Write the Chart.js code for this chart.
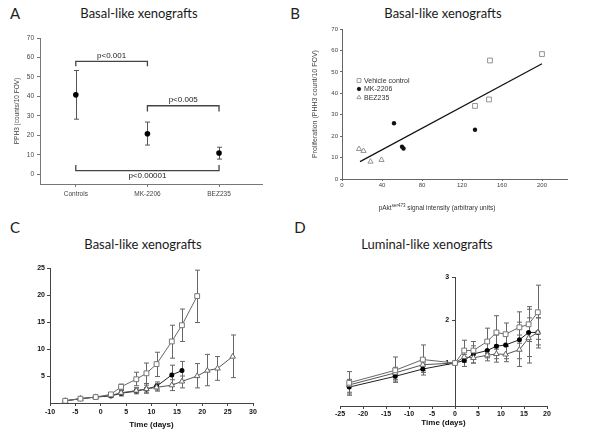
<!DOCTYPE html>
<html lang="en">
<head>
<meta charset="UTF-8">
<title>Xenograft panels</title>
<script src="https://cdn.jsdelivr.net/npm/chart.js"></script>
<style>
  body { margin: 0; width: 600px; height: 446px; background: #fff; position: relative; overflow: hidden;
         font-family: "Liberation Sans", Arial, sans-serif; }
  .panel { position: absolute; }
  .letter { position: absolute; font-family: Lato, sans-serif; font-size: 15px; color: #222;
            transform: translate(-50%, -50%); }
  .title { position: absolute; font-family: Lato, sans-serif; font-size: 13px; color: #1a1a1a;
           transform: translate(-50%, -50%); white-space: nowrap; }
  .xlabel { position: absolute; font-size: 6.5px; color: #333; transform: translate(-50%, -50%); white-space: nowrap; }
  .xlabel sup { font-size: 4.5px; }
</style>
</head>
<body>

<div class="letter" style="left:15px;top:13px">A</div>
<div class="letter" style="left:295px;top:13px">B</div>
<div class="letter" style="left:15px;top:227px">C</div>
<div class="letter" style="left:300px;top:227px">D</div>

<div class="title" style="left:139px;top:13px">Basal-like xenografts</div>
<div class="title" style="left:443px;top:13px">Basal-like xenografts</div>
<div class="title" style="left:143px;top:244px">Basal-like xenografts</div>
<div class="title" style="left:427px;top:244px">Luminal-like xenografts</div>

<canvas id="chartA" class="panel" width="300" height="220" style="left:0;top:0"></canvas>
<canvas id="chartB" class="panel" width="300" height="220" style="left:300px;top:0"></canvas>
<canvas id="chartC" class="panel" width="300" height="226" style="left:0;top:220px"></canvas>
<canvas id="chartD" class="panel" width="300" height="226" style="left:300px;top:220px"></canvas>

<div class="xlabel" style="left:437px;top:207px">pAkt<sup>ser473</sup> signal intensity (arbitrary units)</div>

<script>
// panel A - PPH3 per group
const aGroups = ['Controls', 'MK-2206', 'BEZ235'];
const aMean = [40.8, 20.8, 10.9];
const aLow = [28.3, 15.0, 7.8];
const aHigh = [53.3, 26.8, 13.9];
const aYTicks = [0, 10, 20, 30, 40, 50, 60, 70];
// significance brackets
const aBrFrom = [0, 1, 0];
const aBrTo = [1, 2, 2];
const aBrY = [58.0, 35.2, 1.9];
const aBrTip = [55.5, 32.3, 4.8];
const aBrText = ['p<0.001', 'p<0.005', 'p<0.00001'];

// panel B - proliferation vs pAkt
const bVehX = [133, 147, 148, 200];
const bVehY = [34.1, 37.1, 55.3, 58.3];
const bMkX = [52, 60, 61.5, 133];
const bMkY = [26.0, 15.1, 14.2, 23.0];
const bBezX = [17, 21.5, 28.5, 39.5];
const bBezY = [14.0, 13.1, 8.1, 8.9];
const bFitX = [18, 200];
const bFitY = [8.1, 53.8];
const bXTicks = [0, 40, 80, 120, 160, 200];
const bYTicks = [0, 10, 20, 30, 40, 50, 60, 70];

// panel C - basal-like tumour growth
const cDays = [-7, -4, -1, 2, 4, 7, 9, 11, 14, 16, 19, 21, 23, 26];
const cVeh = [0.4, 0.8, 1.1, 1.6, 3.0, 4.4, 5.5, 7.2, 11.4, 14.4, 19.8];
const cVehLow = [null, null, null, 1.4, 2.5, 3.2, 3.6, 4.9, 8.3, 11.4, 14.9];
const cVehHigh = [null, null, null, 1.8, 3.5, 5.7, 7.4, 9.4, 14.4, 17.4, 24.6];
const cMk = [0.4, 0.8, 1.1, 1.3, 1.8, 2.2, 2.6, 3.1, 5.2, 6.0];
const cMkLow = [null, null, null, 1.1, 1.3, 1.7, 1.8, 2.4, 3.5, 4.2];
const cMkHigh = [null, null, null, 1.5, 2.3, 2.8, 3.6, 3.9, 7.0, 7.7];
const cBez = [0.4, 0.8, 1.1, 1.4, 1.9, 2.3, 2.6, 2.9, 3.3, 4.0, 5.0, 6.0, 6.4, 8.6];
const cBezLow = [null, null, null, null, 1.5, 1.9, 2.0, 2.2, 2.3, 2.8, 2.8, 3.2, 4.2, 4.7];
const cBezHigh = [null, null, null, null, 2.3, 2.8, 3.3, 3.6, 4.3, 5.0, 7.3, 9.0, 8.6, 12.6];
const cXTicks = [-10, -5, 0, 5, 10, 15, 20, 25, 30];
const cYTicks = [5, 10, 15, 20, 25];

// panel D - luminal-like tumour growth
const dDays = [-23, -13, -7, 0, 2, 4, 7, 9, 11, 14, 16, 18];
const dVeh = [0.54, 0.83, 1.08, 1.0, 1.29, 1.29, 1.50, 1.71, 1.67, 1.83, 1.90, 2.18];
const dVehLow = [0.28, 0.55, 0.78, null, 1.05, 1.08, 1.22, 1.32, 1.40, 1.46, 1.50, 1.55];
const dVehHigh = [0.80, 1.14, 1.42, null, 1.53, 1.50, 1.81, 2.10, 1.93, 2.19, 2.31, 2.81];
const dMk = [0.44, 0.69, 0.86, 1.0, 1.06, 1.21, 1.29, 1.39, 1.42, 1.54, 1.71, 1.71];
const dMkLow = [0.32, 0.58, 0.72, null, 0.92, 1.00, 1.12, 1.10, 1.10, 1.10, 1.15, 1.35];
const dMkHigh = [0.56, 0.80, 1.00, null, 1.20, 1.40, 1.46, 1.65, 1.70, 1.95, 2.25, 2.05];
const dBez = [0.49, 0.77, 0.96, 1.0, 1.14, 1.12, 1.18, 1.21, 1.20, 1.31, 1.58, 1.71];
const dBezLow = [0.25, 0.62, 0.82, null, 1.02, 1.00, 1.05, 1.02, 1.03, 0.92, 1.00, 1.42];
const dBezHigh = [0.62, 0.90, 1.10, null, 1.26, 1.25, 1.30, 1.42, 1.38, 1.65, 2.05, 2.05];
const dXTicks = [-25, -20, -15, -10, -5, 0, 5, 10, 15, 20];
const dYTicks = [1, 2, 3];

const FONT = '"Liberation Sans", Arial, sans-serif';

function pts(xs, ys) {
  return ys.map((y, i) => ({ x: xs[i], y: y }));
}

// linear axis with fixed ticks and a fixed box size, so the plot area lands where it should
function axis(o) {
  return {
    type: 'linear',
    min: o.min,
    max: o.max,
    position: o.position,
    border: { color: o.color, width: 1 },
    grid: { drawOnChartArea: false, drawTicks: true, tickLength: o.tick, color: o.color },
    ticks: {
      color: o.labelColor,
      font: { family: FONT, size: o.fontSize, weight: o.bold ? 'bold' : 'normal' },
      padding: o.pad,
      autoSkip: false,
      maxRotation: 0,
      callback: o.callback || (v => v)
    },
    title: o.title ? {
      display: true,
      text: o.title,
      color: o.labelColor,
      font: { family: FONT, size: o.titleSize, weight: o.bold ? 'bold' : 'normal' },
      padding: { top: o.titlePad || 0, bottom: o.titlePad || 0 }
    } : { display: false },
    afterBuildTicks: s => { s.ticks = o.ticks.map(v => ({ value: v })); },
    afterFit: s => {
      if (o.size == null) return;
      if (s.isHorizontal()) s.height = o.size; else s.width = o.size;
    }
  };
}

// vertical error bars with caps, values read from dataset.errLow / errHigh
const errorBars = {
  id: 'errorBars',
  beforeDatasetsDraw(chart) {
    const ctx = chart.ctx;
    const ys = chart.scales.y;
    chart.data.datasets.forEach((ds, i) => {
      if (!ds.errLow) return;
      const meta = chart.getDatasetMeta(i);
      const cap = ds.errCap || 2.5;
      ctx.save();
      ctx.strokeStyle = ds.errColor || '#555';
      ctx.lineWidth = 1;
      meta.data.forEach((el, j) => {
        const lo = ds.errLow[j], hi = ds.errHigh[j];
        if (lo == null || hi == null) return;
        const px = Math.round(el.x) + 0.5;
        const yl = ys.getPixelForValue(lo), yh = ys.getPixelForValue(hi);
        ctx.beginPath();
        ctx.moveTo(px, yl); ctx.lineTo(px, yh);
        ctx.moveTo(px - cap, yl); ctx.lineTo(px + cap, yl);
        ctx.moveTo(px - cap, yh); ctx.lineTo(px + cap, yh);
        ctx.stroke();
      });
      ctx.restore();
    });
  }
};

// significance brackets for panel A
const brackets = {
  id: 'brackets',
  afterDatasetsDraw(chart) {
    const ctx = chart.ctx;
    const xs = chart.scales.x, ys = chart.scales.y;
    ctx.save();
    ctx.strokeStyle = '#444';
    ctx.lineWidth = 1.3;
    ctx.fillStyle = '#222';
    ctx.font = '8px ' + FONT;
    ctx.textAlign = 'center';
    aBrText.forEach((t, i) => {
      const x1 = xs.getPixelForValue(aBrFrom[i] + 1);
      const x2 = xs.getPixelForValue(aBrTo[i] + 1);
      const y = ys.getPixelForValue(aBrY[i]);
      const tip = ys.getPixelForValue(aBrTip[i]);
      ctx.beginPath();
      ctx.moveTo(x1, tip); ctx.lineTo(x1, y); ctx.lineTo(x2, y); ctx.lineTo(x2, tip);
      ctx.stroke();
      const below = aBrTip[i] > aBrY[i];
      ctx.textBaseline = below ? 'top' : 'bottom';
      ctx.fillText(t, (x1 + x2) / 2, below ? y + 1 : y - 2);
    });
    ctx.restore();
  }
};

// legend drawn inside the plot of panel B
const insideLegend = {
  id: 'insideLegend',
  afterDatasetsDraw(chart) {
    const ctx = chart.ctx;
    const left = chart.chartArea.left + 17;
    const top = chart.chartArea.top + 51.5;
    ctx.save();
    ctx.font = '7px ' + FONT;
    ctx.textBaseline = 'middle';
    chart.data.datasets.filter(ds => ds.label).forEach((ds, i) => {
      const y = top + i * 8.5;
      ctx.fillStyle = ds.backgroundColor;
      ctx.strokeStyle = ds.borderColor;
      ctx.lineWidth = 0.8;
      Chart.helpers.drawPoint(ctx, {
        pointStyle: ds.pointStyle, radius: ds.pointRadius * 0.8, rotation: 0, borderWidth: 0.8
      }, left, y);
      ctx.fillStyle = '#333';
      ctx.fillText(ds.label, left + 5, y + 0.5);
    });
    ctx.restore();
  }
};

const base = {
  responsive: false,
  animation: false,
  events: [],
  plugins: { legend: { display: false }, tooltip: { enabled: false } }
};

// ---- A
new Chart(document.getElementById('chartA'), {
  type: 'scatter',
  data: {
    datasets: [{
      data: pts([1, 2, 3], aMean),
      errLow: aLow, errHigh: aHigh, errColor: '#555', errCap: 2.5,
      pointStyle: 'circle', pointRadius: 2.8,
      backgroundColor: '#000', borderColor: '#000', borderWidth: 0
    }]
  },
  options: Object.assign({}, base, {
    layout: { padding: { top: 38, right: 38, bottom: 0, left: 6 } },
    scales: {
      x: axis({ min: 0.5, max: 3.6, position: 'bottom', color: '#777', labelColor: '#444',
        fontSize: 6.5, pad: 3, tick: 3, size: 36, ticks: [1, 2, 3],
        callback: v => aGroups[v - 1] }),
      y: axis({ min: -5, max: 70, position: 'left', color: '#777', labelColor: '#444',
        fontSize: 6.5, pad: 3, tick: 3, size: 34, ticks: aYTicks,
        title: 'PPH3 (counts/10 FOV)', titleSize: 6.5, titlePad: 7 })
    }
  }),
  plugins: [errorBars, brackets]
});

// ---- B
new Chart(document.getElementById('chartB'), {
  type: 'scatter',
  data: {
    datasets: [
      { data: pts(bFitX, bFitY), showLine: true, pointRadius: 0, borderColor: '#111', borderWidth: 1.2 },
      { label: 'Vehicle control', data: pts(bVehX, bVehY), pointStyle: 'rect', pointRadius: 3.4,
        backgroundColor: '#fff', borderColor: '#888', borderWidth: 0.9 },
      { label: 'MK-2206', data: pts(bMkX, bMkY), pointStyle: 'circle', pointRadius: 2.2,
        backgroundColor: '#111', borderColor: '#111', borderWidth: 0 },
      { label: 'BEZ235', data: pts(bBezX, bBezY), pointStyle: 'triangle', pointRadius: 3,
        backgroundColor: '#fff', borderColor: '#888', borderWidth: 0.9 }
    ]
  },
  options: Object.assign({}, base, {
    layout: { padding: { top: 29, right: 33, bottom: 0, left: 8 } },
    scales: {
      x: axis({ min: 0, max: 225, position: 'bottom', color: '#666', labelColor: '#444',
        fontSize: 6, pad: 1, tick: 2, size: 41, ticks: bXTicks }),
      y: axis({ min: 0, max: 70, position: 'left', color: '#666', labelColor: '#444',
        fontSize: 6, pad: 2, tick: 2, size: 34, ticks: bYTicks,
        title: 'Proliferation (PHH3 count/10 FOV)', titleSize: 7, titlePad: 3 })
    }
  }),
  plugins: [insideLegend]
});

// growth curve datasets shared by C and D
function growthSets(days, veh, vehLo, vehHi, mk, mkLo, mkHi, bez, bezLo, bezHi) {
  const line = { showLine: true, borderWidth: 1, errColor: '#666', errCap: 2.5 };
  return [
    Object.assign({}, line, { data: pts(days, veh), errLow: vehLo, errHigh: vehHi,
      pointStyle: 'rect', pointRadius: 3.4, backgroundColor: '#fff', borderColor: '#666',
      pointBorderColor: '#777', pointBorderWidth: 1 }),
    Object.assign({}, line, { data: pts(days, bez), errLow: bezLo, errHigh: bezHi,
      pointStyle: 'triangle', pointRadius: 3.2, backgroundColor: '#fff', borderColor: '#555',
      pointBorderColor: '#666', pointBorderWidth: 1 }),
    Object.assign({}, line, { data: pts(days, mk), errLow: mkLo, errHigh: mkHi,
      pointStyle: 'circle', pointRadius: 2.5, backgroundColor: '#000', borderColor: '#222',
      pointBorderColor: '#000', pointBorderWidth: 0 })
  ];
}

// ---- C
new Chart(document.getElementById('chartC'), {
  type: 'scatter',
  data: { datasets: growthSets(cDays, cVeh, cVehLow, cVehHigh, cMk, cMkLow, cMkHigh, cBez, cBezLow, cBezHigh) },
  options: Object.assign({}, base, {
    layout: { padding: { top: 48, right: 47, bottom: 16, left: 0 } },
    scales: {
      x: axis({ min: -10, max: 30, position: 'bottom', color: '#444', labelColor: '#111',
        fontSize: 7, bold: true, pad: 2, tick: 3, size: 27, ticks: cXTicks,
        title: 'Time (days)', titleSize: 8 }),
      y: axis({ min: 0, max: 25, position: 'left', color: '#444', labelColor: '#111',
        fontSize: 7, bold: true, pad: 2, tick: 3, size: 50, ticks: cYTicks })
    }
  }),
  plugins: [errorBars]
});

// ---- D (y axis crosses at day 0; labels are right-aligned on the axis, so pad them with spaces)
new Chart(document.getElementById('chartD'), {
  type: 'scatter',
  data: { datasets: growthSets(dDays, dVeh, dVehLow, dVehHigh, dMk, dMkLow, dMkHigh, dBez, dBezLow, dBezHigh) },
  options: Object.assign({}, base, {
    layout: { padding: { top: 57, right: 53, bottom: 18.5, left: 40 } },
    scales: {
      x: axis({ min: -25, max: 20, position: 'bottom', color: '#444', labelColor: '#111',
        fontSize: 7, bold: true, pad: 1, tick: 3, size: 21.5, ticks: dXTicks,
        title: 'Time (days)', titleSize: 8 }),
      y: axis({ min: 0, max: 3, position: { x: 0 }, color: '#444', labelColor: '#111',
        fontSize: 7, bold: true, pad: 1, tick: 3, ticks: dYTicks,
        callback: v => v + '   ' })
    }
  }),
  plugins: [errorBars]
});
</script>
</body>
</html>
